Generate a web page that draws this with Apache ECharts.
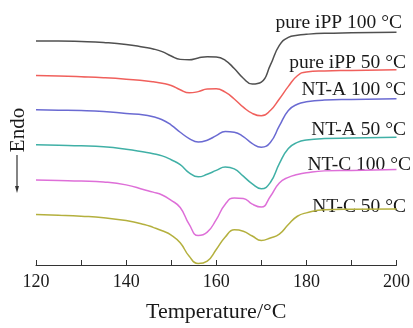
<!DOCTYPE html>
<html>
<head>
<meta charset="utf-8">
<script src="https://cdn.jsdelivr.net/npm/echarts@6/dist/echarts.min.js"></script>
<style>html,body{margin:0;padding:0;background:#fff;}#c{width:413px;height:328px;}</style>
</head>
<body>
<div id="c"></div>
<script>
// Temperature ticks
var xTicks = [120, 140, 160, 180, 200];
// Temperatures at which the curves were read (°C)
var temps = [120,125,130,135,140,144,146,148,150,152,154,156,158,160,162,164,166,168,170,172,174,176,178,180,184,190,200];
// Series names
var names = ['pure iPP 100 °C', 'pure iPP 50 °C', 'NT-A 100 °C', 'NT-A 50 °C', 'NT-C 100 °C', 'NT-C 50 °C'];
// Heat flow curves (vertically offset, arbitrary units), one value per temperature
var pureIPP100 = [232,232,231.5,230.5,228.5,225.5,223.8,221,216.5,213,212.5,214.5,215.8,215.5,212,203.5,193.5,187.5,189.5,207,227.5,235.8,238,239,240,240.5,241];
var pureIPP50  = [196.3,195.8,195,194,192.5,190.8,189.7,188.3,186,181.5,178.3,179.6,182.3,182.5,179,172,163.5,157,154.5,160,172,185,196,200,201,201.5,202.3];
var ntA100     = [160.7,160.4,160,159,157,155.5,153.5,150.5,145,137.5,131,127.3,129.3,134,138.3,137.5,133,125.7,122,127,144,160,166.5,169,170.8,171.5,172.3];
var ntA50      = [124.5,124,123.5,122.5,120,117,115.3,113,109,104,95.5,91.3,94,98,101.5,99.5,92,84,79,85.5,105,120.7,127,129.5,131,131.5,132.3];
var ntC100     = [88,87.5,87,86,83,78,75.5,72.5,67,59.5,42,30.5,34,47,63,69.5,69,63,60,71,85,90.8,93.7,95.5,97.5,98,99];
var ntC50      = [52.3,51.5,50.5,49,46,42,39,35.5,31,23,9,1.5,4,16,29,36.5,35,30,25.5,28,32,42,50.5,54,57.3,57.8,58];

var curves = [pureIPP100, pureIPP50, ntA100, ntA50, ntC100, ntC50];
var colors = ['#505050', '#f0605c', '#6a6ad2', '#40b0a6', '#de6fd8', '#b4b03e'];
var labelPos = [[402,23],[406,63],[406,90],[406,130],[411,165],[406,206.5]];

var chart = echarts.init(document.getElementById('c'));
var FONT = '"Liberation Serif", "Times New Roman", serif';
var series = curves.map(function (vals, i) {
  return {
    type: 'line', name: names[i],
    data: temps.map(function (t, k) { return [t, vals[k]]; }),
    showSymbol: false, symbol: 'none',
    smooth: 0.5, lineStyle: { color: colors[i], width: 1.5 }, animation: false
  };
});
var graphics = names.map(function (n, i) {
  return {
    type: 'text', x: labelPos[i][0], y: labelPos[i][1],
    style: { text: n, font: '19.5px ' + FONT, fill: '#1a1a1a', textAlign: 'right', textVerticalAlign: 'middle' }
  };
});
graphics.push({
  type: 'text', x: 18, y: 130, rotation: Math.PI / 2,
  style: { text: 'Endo', font: '21px ' + FONT, fill: '#1a1a1a', textAlign: 'center', textVerticalAlign: 'middle' }
});
graphics.push({
  type: 'line', shape: { x1: 17, y1: 155, x2: 17, y2: 188 },
  style: { stroke: '#333', lineWidth: 1.2 }
});
graphics.push({
  type: 'polygon', shape: { points: [[15, 186], [19, 186], [17, 193]] },
  style: { fill: '#333' }
});

chart.setOption({
  animation: false,
  backgroundColor: '#fff',
  grid: { left: 36, right: 15, top: 14, bottom: 54 },
  xAxis: {
    type: 'value', min: xTicks[0], max: xTicks[xTicks.length - 1], interval: 20,
    name: 'Temperature/°C', nameLocation: 'middle', nameGap: 36,
    nameTextStyle: { fontFamily: FONT, fontSize: 22, color: '#1a1a1a' },
    axisLine: { show: true, lineStyle: { color: '#333', width: 1 } },
    axisTick: { show: true, inside: true, length: 5, lineStyle: { color: '#333' } },
    minorTick: { show: true, splitNumber: 2, length: 5, lineStyle: { color: '#333' } },
    splitLine: { show: false },
    axisLabel: { fontFamily: FONT, fontSize: 18, color: '#1a1a1a', margin: 8 }
  },
  yAxis: {
    type: 'value', min: 0, max: 260, show: false
  },
  series: series,
  graphic: graphics
});
</script>
</body>
</html>
